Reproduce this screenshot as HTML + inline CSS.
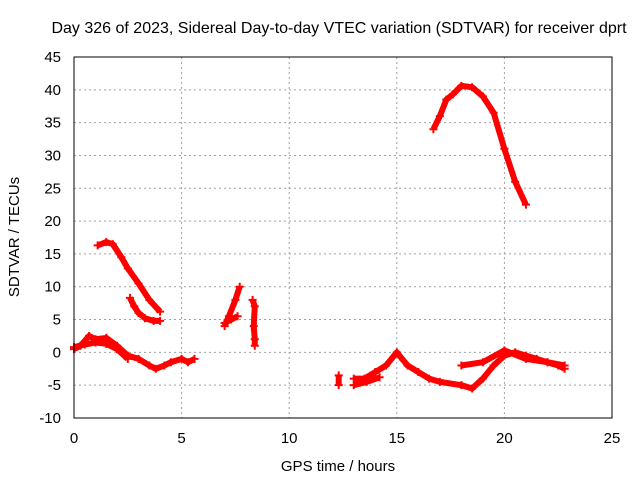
<!DOCTYPE html>
<html><head><meta charset="utf-8"><style>
body{margin:0;background:#fff}
svg{font-family:"Liberation Sans",sans-serif}
</style></head><body>
<svg id="chart" width="640" height="480">
<text x="339" y="33" font-size="16" text-anchor="middle">Day 326 of 2023, Sidereal Day-to-day VTEC variation (SDTVAR) for receiver dprt</text>
<text x="338" y="471" font-size="15" text-anchor="middle">GPS time / hours</text>
<text transform="translate(19,237) rotate(-90)" font-size="15" text-anchor="middle">SDTVAR / TECUs</text>
<g id="grid"></g><g id="ticks"></g><g id="series"></g>
<rect x="74" y="57" width="538" height="361" fill="none" stroke="#000"/>
</svg>
<script>
const xTicks=[0,5,10,15,20,25];
const yTicks=[-10,-5,0,5,10,15,20,25,30,35,40,45];
const segArcT=[16.7,17,17.3,17.6,18,18.5,19,19.5,20,20.5,21];
const segArcV=[34,36,38.5,39.3,40.6,40.4,39,36.5,31,26,22.5];
const segUpT=[1.1,1.5,1.8,2.2,2.5,3,3.5,4];
const segUpV=[16.3,16.8,16.5,14.5,12.8,10.5,8,6.2];
const segMidT=[2.6,2.8,3,3.3,3.7,4];
const segMidV=[8.3,7,6,5.2,4.8,4.8];
const segLowT=[0,0.3,0.7,1,1.5,2,2.5,3,3.5,3.8,4.2,4.5,5,5.3,5.6];
const segLowV=[0.5,1,2.5,2,2.2,1,-0.5,-1,-2,-2.5,-2,-1.5,-1,-1.5,-1];
const segLow2T=[0,0.5,1,1.5,2,2.5];
const segLow2V=[0.8,1.2,1.5,1.3,0.5,-1];
const seg7T=[7,7.2,7.5,7.7];
const seg7V=[4,5.5,8,10];
const seg7bT=[7,7.3,7.6];
const seg7bV=[4.5,5,5.5];
const seg8T=[8.3,8.4,8.35,8.4,8.4];
const seg8V=[8,7,4,2,1];
const seg12T=[12.3,12.3];
const seg12V=[-3.5,-5];
const segLateT=[13,13.5,14,14.5,15,15.5,16,16.5,17,18,18.5,19,19.5,20,20.5,21,21.5,22,22.5,22.8];
const segLateV=[-4,-4,-3,-2,0,-2,-3,-4,-4.5,-5,-5.5,-4,-2,-0.5,0,-0.5,-1,-1.5,-2,-2.5];
const segLate2T=[13,13.6,14.2];
const segLate2V=[-5,-4.5,-3.8];
const segLate3T=[18,19,20,21,22,22.8];
const segLate3V=[-2,-1.5,0.3,-1,-1.5,-2];
const series=[[segArcT,segArcV],[segUpT,segUpV],[segMidT,segMidV],[segLowT,segLowV],[segLow2T,segLow2V],[seg7T,seg7V],[seg7bT,seg7bV],[seg8T,seg8V],[seg12T,seg12V],[segLateT,segLateV],[segLate2T,segLate2V],[segLate3T,segLate3V]];
const X=v=>74+v*538/25, Y=v=>418-(v+10)*361/55;
const NS="http://www.w3.org/2000/svg";
function mk(tag,attrs,parent){const e=document.createElementNS(NS,tag);for(const k in attrs)e.setAttribute(k,attrs[k]);document.getElementById(parent).appendChild(e);return e;}
xTicks.forEach(t=>{
 const g=mk('line',{x1:X(t),x2:X(t),y1:57,y2:418,stroke:'#a0a0a0','stroke-dasharray':'2,3'},'grid');
 
 
 const l=mk('text',{x:X(t),y:443,'font-size':15,'text-anchor':'middle'},'ticks');l.textContent=t;
 
 
});
yTicks.forEach(t=>{
 const g=mk('line',{x1:74,x2:612,y1:Y(t),y2:Y(t),stroke:'#a0a0a0','stroke-dasharray':'2,3'},'grid');
 
 
 const l=mk('text',{x:61,y:Y(t)+5,'font-size':15,'text-anchor':'end'},'ticks');l.textContent=t;
 
 
});
series.forEach(([ts,vs])=>{
 const p=mk('polyline',{points:ts.map((t,i)=>X(t)+','+Y(vs[i])).join(' '),fill:'none',stroke:'#f00','stroke-width':6,'stroke-linejoin':'round'},'series');
 
 
 ts.forEach((t,i)=>{
  const m=mk('path',{d:`M${X(t)-4},${Y(vs[i])}h8M${X(t)},${Y(vs[i])-4}v8`,stroke:'#f00','stroke-width':2},'series');
  
  
 });
});
</script>
</body></html>
